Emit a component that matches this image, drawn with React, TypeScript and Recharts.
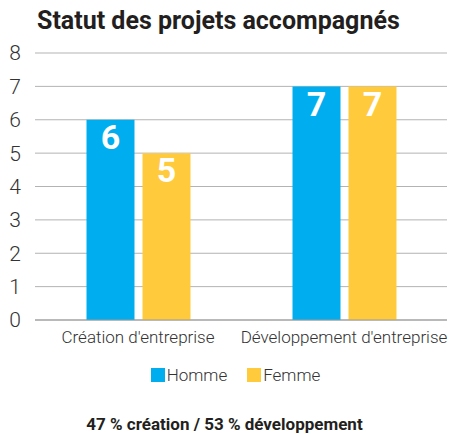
import React from "react";
import {
  BarChart,
  Bar,
  XAxis,
  YAxis,
  CartesianGrid,
  Legend,
  LabelList,
} from "recharts";

// data
const categories = ["Création d'entreprise", "Développement d'entreprise"];
const homme = [6, 7];
const femme = [5, 7];
const yTicks = [0, 1, 2, 3, 4, 5, 6, 7, 8];
const seriesNames = ["Homme", "Femme"];

const data = categories.map((name, i) => ({
  name,
  Homme: homme[i],
  Femme: femme[i],
}));

const FONT = "Roboto, 'DejaVu Sans', sans-serif";
const BLUE = "#00aeef";
const YELLOW = "#ffcb3d";
const colors: Record<string, string> = { Homme: BLUE, Femme: YELLOW };

const LegendBox = () => (
  <div
    style={{
      display: "flex",
      justifyContent: "center",
      gap: 20,
      fontFamily: FONT,
      fontSize: 17,
      fontWeight: 300,
      color: "#333",
      paddingLeft: 22,
      paddingTop: 5,
    }}
  >
    {seriesNames.map((s) => (
      <div key={s} style={{ display: "flex", alignItems: "center", gap: 2 }}>
        <span style={{ width: 14, height: 14, background: colors[s], display: "inline-block" }} />
        <span>{s}</span>
      </div>
    ))}
  </div>
);

const App = () => {
  return (
    <div
      style={{
        position: "absolute",
        left: 0,
        top: 0,
        width: 449,
        height: 434,
        background: "#fff",
        fontFamily: FONT,
      }}
    >
      <div
        style={{
          position: "absolute",
          left: 37,
          top: 6,
          fontSize: 25,
          fontWeight: 700,
          color: "#231f20",
          whiteSpace: "nowrap",
        }}
      >
        Statut des projets accompagnés
      </div>
      <BarChart
        width={449}
        height={392}
        data={data}
        margin={{ top: 53, right: 2, left: 2, bottom: 0 }}
        barCategoryGap="25%"
        barGap={8}
      >
        <CartesianGrid vertical={false} stroke="#b3b3b3" strokeWidth={1} />
        <XAxis
          dataKey="name"
          height={40}
          tickLine={false}
          axisLine={{ stroke: "#999" }}
          interval={0}
          tick={{ fontSize: 17, fill: "#333", fontFamily: FONT, fontWeight: 300 }}
          tickMargin={5}
        />
        <YAxis
          width={33}
          domain={[0, 8]}
          ticks={yTicks}
          tickLine={false}
          axisLine={false}
          tick={{ fontSize: 21, fill: "#333", fontFamily: FONT, fontWeight: 300 }}
          tickMargin={8}
        />
        <Legend verticalAlign="bottom" height={32} content={() => <LegendBox />} />
        <Bar dataKey="Homme" fill={BLUE} isAnimationActive={false}>
          <LabelList
            dataKey="Homme"
            position="insideTop"
            fill="#fff"
            style={{ fontSize: 34, fontWeight: 700, fontFamily: FONT }}
          />
        </Bar>
        <Bar dataKey="Femme" fill={YELLOW} isAnimationActive={false}>
          <LabelList
            dataKey="Femme"
            position="insideTop"
            fill="#fff"
            style={{ fontSize: 34, fontWeight: 700, fontFamily: FONT }}
          />
        </Bar>
      </BarChart>
      <div
        style={{
          position: "absolute",
          left: 0,
          width: 449,
          top: 414,
          textAlign: "center",
          fontSize: 17,
          fontWeight: 700,
          color: "#231f20",
        }}
      >
        47 % création / 53 % développement
      </div>
    </div>
  );
};

export default App;
